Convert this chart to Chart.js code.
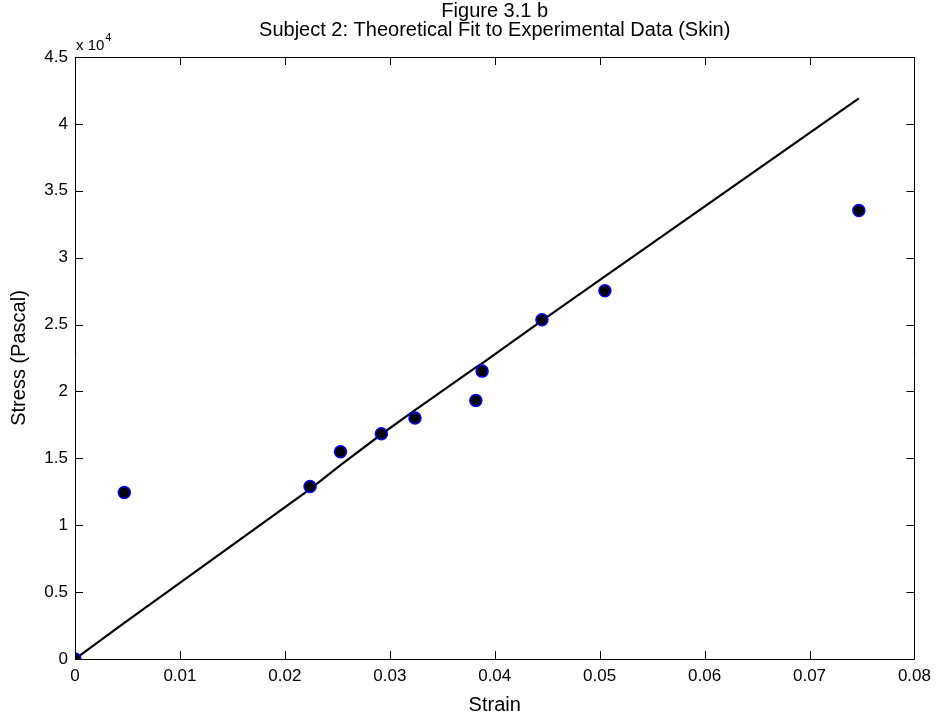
<!DOCTYPE html>
<html>
<head>
<meta charset="utf-8">
<script src="https://cdn.jsdelivr.net/npm/chart.js@4.4.1/dist/chart.umd.min.js"></script>
<style>
  html, body { margin: 0; padding: 0; background: #ffffff; }
  #wrap { width: 938px; height: 717px; }
</style>
</head>
<body>
<div id="wrap"><canvas id="c" width="938" height="717"></canvas></div>
<script>
// Experimental data (Strain, Stress in Pascal)
const strainData = [0, 0.0047, 0.0224, 0.0253, 0.0292, 0.0324, 0.0382, 0.0388, 0.0445, 0.0505, 0.0747];
const stressData = [0, 12450, 12900, 15490, 16840, 18010, 19330, 21520, 25360, 27530, 33530];
// Theoretical fit evaluated at the same strains
const fitStress = [0, 2700, 12700, 14500, 16800, 18600, 21800, 22100, 25300, 28600, 41900];
// Axis ticks
const xTicks = [0, 0.01, 0.02, 0.03, 0.04, 0.05, 0.06, 0.07, 0.08];
const yTicks = [0, 5000, 10000, 15000, 20000, 25000, 30000, 35000, 40000, 45000];
const titleLines = ['Figure 3.1 b', 'Subject 2: Theoretical Fit to Experimental Data (Skin)'];

const FONT = '"Liberation Sans", Arial, Helvetica, sans-serif';

const pts = strainData.map((x, i) => ({ x: x, y: stressData[i] }));
const fit = strainData.map((x, i) => ({ x: x, y: fitStress[i] }));

const boxTicks = {
  id: 'boxTicks',
  afterDatasetsDraw(chart) {
    const { ctx, chartArea: a, scales: { x, y } } = chart;
    ctx.save();
    ctx.strokeStyle = '#000';
    ctx.lineWidth = 1;
    ctx.beginPath();
    ctx.rect(Math.round(a.left) + 0.5, Math.round(a.top) + 0.5,
             Math.round(a.right - a.left), Math.round(a.bottom - a.top));
    ctx.stroke();
    const L = 8;
    ctx.beginPath();
    x.ticks.forEach(t => {
      const px = Math.round(x.getPixelForValue(t.value)) + 0.5;
      ctx.moveTo(px, a.bottom); ctx.lineTo(px, a.bottom - L);
      ctx.moveTo(px, a.top); ctx.lineTo(px, a.top + L);
    });
    y.ticks.forEach(t => {
      const py = Math.round(y.getPixelForValue(t.value)) + 0.5;
      ctx.moveTo(a.left, py); ctx.lineTo(a.left + L, py);
      ctx.moveTo(a.right, py); ctx.lineTo(a.right - L, py);
    });
    ctx.stroke();
    ctx.fillStyle = '#000';
    // title, centred over the plot box
    ctx.textAlign = 'center';
    ctx.textBaseline = 'middle';
    ctx.font = '20px ' + FONT;
    const cx = (a.left + a.right) / 2;
    ctx.fillText(titleLines[0], cx, 11);
    ctx.fillText(titleLines[1], cx, 30);
    // exponent label
    ctx.textBaseline = 'alphabetic';
    ctx.textAlign = 'left';
    ctx.font = '15px ' + FONT;
    ctx.fillText('x 10', a.left + 1, a.top - 7);
    const w = ctx.measureText('x 10').width;
    ctx.font = '11px ' + FONT;
    ctx.fillText('4', a.left + 1 + w + 1, a.top - 16);
    ctx.restore();
  }
};

new Chart(document.getElementById('c'), {
  type: 'scatter',
  data: {
    datasets: [
      {
        label: 'Experimental',
        data: pts,
        showLine: false,
        pointRadius: 6,
        pointHoverRadius: 6,
        pointBackgroundColor: '#000000',
        pointBorderColor: '#0000ff',
        pointBorderWidth: 1.5,
        order: 1
      },
      {
        label: 'Theoretical',
        data: fit,
        showLine: true,
        borderColor: '#000000',
        borderWidth: 2.2,
        pointRadius: 0,
        pointHoverRadius: 0,
        fill: false,
        tension: 0,
        order: 2
      }
    ]
  },
  options: {
    responsive: false,
    animation: false,
    events: [],
    layout: { padding: { left: 0, right: 23, top: 57, bottom: 0 } },
    plugins: {
      legend: { display: false },
      tooltip: { enabled: false },
      title: { display: false }
    },
    scales: {
      x: {
        type: 'linear',
        min: 0, max: 0.08,
        afterBuildTicks: s => { s.ticks = xTicks.map(v => ({ value: v })); },
        afterFit: s => { s.height = 58; },
        grid: { display: false, drawTicks: false },
        border: { display: false },
        ticks: {
          color: '#000',
          padding: 7,
          maxRotation: 0,
          font: { family: FONT, size: 17 },
          callback: v => (v === 0 ? '0' : String(+v.toFixed(2)))
        },
        title: {
          display: true,
          text: 'Strain',
          color: '#000',
          font: { family: FONT, size: 20 },
          padding: { top: 0, bottom: 0 }
        }
      },
      y: {
        type: 'linear',
        min: 0, max: 45000,
        afterBuildTicks: s => { s.ticks = yTicks.map(v => ({ value: v })); },
        afterFit: s => { s.width = 75; },
        grid: { display: false, drawTicks: false },
        border: { display: false },
        ticks: {
          color: '#000',
          padding: 7,
          font: { family: FONT, size: 17 },
          callback: v => String(+(v / 10000).toFixed(1))
        },
        title: {
          display: true,
          text: 'Stress (Pascal)',
          color: '#000',
          font: { family: FONT, size: 20 },
          padding: { top: 7, bottom: 0 }
        }
      }
    }
  },
  plugins: [boxTicks]
});
</script>
</body>
</html>
